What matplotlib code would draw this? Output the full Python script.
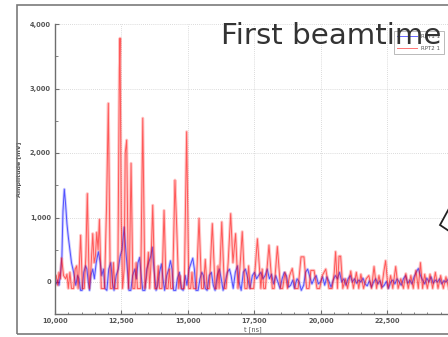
import matplotlib
matplotlib.use("Agg")
import matplotlib.pyplot as plt
from matplotlib.patches import Rectangle, Polygon
from matplotlib.ticker import MultipleLocator, FuncFormatter

# ---- data ----
red_t = [10000, 10050, 10100, 10150, 10200, 10250, 10320, 10400, 10450, 10500, 10560, 10620,
         10700, 10760, 10815, 10870, 10920, 10965, 11030, 11100, 11160, 11215, 11290, 11350,
         11420, 11470, 11520, 11570, 11620, 11670, 11740, 11860, 11940, 12005, 12080, 12150,
         12200, 12250, 12360, 12420, 12445, 12490, 12540, 12600, 12640, 12695, 12760, 12800,
         12860, 12930, 13000, 13050, 13100, 13220, 13300, 13380, 13450, 13510, 13560, 13610,
         13675, 13750, 13830, 13880, 13930, 14020, 14100, 14180, 14250, 14300, 14350, 14420,
         14510, 14580, 14650, 14700, 14760, 14860, 14950, 15030, 15100, 15150, 15200, 15310,
         15415, 15510, 15580, 15650, 15720, 15800, 15915, 16020, 16080, 16130, 16170, 16270,
         16370, 16430, 16510, 16605, 16690, 16790, 16880, 16950, 17040, 17140, 17220, 17280,
         17340, 17470, 17610, 17740, 17790, 17850, 17910, 18045, 18170, 18240, 18360, 18480,
         18560, 18650, 18740, 18820, 18920, 19030, 19140, 19250, 19360, 19460, 19550, 19620,
         19740, 19850, 19950, 20050, 20180, 20300, 20420, 20500, 20550, 20620, 20680, 20740,
         20820, 20920, 21000, 21120, 21220, 21330, 21420, 21500, 21600, 21700, 21800, 21900,
         21995, 22090, 22180, 22280, 22360, 22430, 22520, 22620, 22700, 22810, 22900, 23000,
         23100, 23190, 23280, 23380, 23470, 23570, 23660, 23740, 23820, 23900, 24000, 24100,
         24200, 24300, 24400, 24500, 24600, 24700, 24800]
red_amp = [0, 100, -50, 150, 50, 370, 100, 50, 120, -100, 150, -100,
           -100, 200, 250, -100, 300, 725, -100, -100, 400, 1370, -100, 200,
           750, 300, 400, 770, 500, 970, -100, -100, 1200, 2770, -100, -100,
           300, -100, -100, 3300, 3780, 1000, -100, 200, 2000, 2200, -100, 200,
           1840, -100, -100, 300, -100, -100, 2540, -100, 100, 460, -100, 300,
           1190, -100, -100, 250, -100, -100, 1110, -100, -100, 200, -100, -100,
           1580, 800, -100, 100, -100, -100, 2330, -100, -100, 150, -100, -100,
           985, -100, -100, 350, -100, -100, 905, -100, -100, 250, -100, 930,
           -100, -100, 300, 1060, 300, 750, -100, 200, 780, -100, -100, 250,
           -100, -100, 670, -100, 200, -100, -100, 570, -100, -100, 550, -100,
           -100, 150, -100, 100, 210, -100, -100, 390, 390, -100, -100, 180,
           180, -100, -100, 100, 200, -100, -100, 150, 470, -100, 400, 400,
           -100, 50, -100, 170, -100, 150, -100, 120, -100, 50, 100, -100,
           240, -100, 100, -100, 150, 330, -100, 100, -100, 240, -100, 50,
           -100, 130, -100, 100, -100, 180, -100, 300, -100, 120, -100, 120,
           -100, 150, -100, 100, -100, 80, -100]

blue_t = [10000, 10050, 10100, 10150, 10200, 10260, 10300, 10350, 10400, 10450, 10500, 10560,
          10620, 10700, 10780, 10850, 10900, 10960, 11020, 11080, 11150, 11200, 11250, 11300,
          11350, 11420, 11480, 11550, 11630, 11700, 11760, 11820, 11880, 11950, 12020, 12100,
          12160, 12220, 12300, 12380, 12450, 12520, 12600, 12660, 12720, 12780, 12850, 12920,
          13000, 13060, 13120, 13180, 13240, 13300, 13380, 13450, 13520, 13600, 13660, 13720,
          13800, 13860, 13930, 14000, 14060, 14120, 14200, 14280, 14340, 14400, 14460, 14540,
          14600, 14680, 14740, 14820, 14900, 14960, 15040, 15120, 15180, 15240, 15300, 15380,
          15450, 15520, 15580, 15650, 15720, 15800, 15880, 15950, 16020, 16100, 16180, 16250,
          16320, 16400, 16480, 16560, 16620, 16700, 16780, 16860, 16920, 17000, 17080, 17160,
          17250, 17330, 17420, 17500, 17580, 17650, 17740, 17820, 17900, 17980, 18060, 18140,
          18220, 18300, 18380, 18460, 18540, 18620, 18700, 18780, 18860, 18940, 19000, 19100,
          19180, 19260, 19350, 19420, 19500, 19580, 19660, 19740, 19820, 19900, 19980, 20060,
          20140, 20220, 20300, 20380, 20460, 20540, 20620, 20700, 20780, 20860, 20940, 21020,
          21100, 21180, 21260, 21340, 21420, 21500, 21580, 21660, 21740, 21820, 21900, 21980,
          22060, 22140, 22220, 22300, 22380, 22460, 22540, 22620, 22700, 22780, 22860, 22940,
          23020, 23100, 23180, 23260, 23340, 23420, 23500, 23580, 23660, 23740, 23820, 23900,
          23980, 24060, 24140, 24220, 24300, 24380, 24460, 24540, 24620, 24700, 24800]
blue_amp = [0, -30, 30, -50, 100, 400, 1100, 1440, 1200, 900, 700, 500,
            300, 150, -50, 100, 50, -130, -130, 150, 250, 200, 0, -130,
            100, 200, 50, 300, 470, 300, 100, 200, -100, -130, 200, 300,
            0, -130, 100, 200, 400, 500, 850, 500, 200, -130, -130, 100,
            200, 50, 300, 380, 100, -130, -130, 200, 300, 400, 540, 200,
            -130, -50, 150, 280, 50, -130, 100, 200, 330, 200, -130, -130,
            50, 150, -100, -130, 100, -50, 200, 300, 370, 200, -130, -130,
            50, 150, 100, -100, -130, 100, 150, -50, -130, 100, 200, 50,
            -130, 0, 150, 200, 100, -100, 150, 250, 0, -130, 150, 200,
            50, -100, 100, 150, 50, 100, 150, 50, 100, 200, 50, 120,
            -30, 100, 0, -100, 50, 150, 100, -80, -50, 30, -100, 50,
            0, -130, -50, 150, 200, 80, -30, 50, 100, -30, 0, 80,
            -50, 80, 10, -80, 30, 100, 50, 150, 0, 50, -50, 50,
            100, 0, 50, -20, 30, 0, 60, -30, -60, 20, -80, 0,
            50, -30, 20, -80, -50, 10, -100, 0, 30, -30, 50, 0,
            -50, 50, 100, -20, 30, -30, 80, 150, 210, 100, 30, -30,
            60, 0, 80, -20, 30, 0, 50, -30, 20, 0, 50]

series_labels = ["RPT1 1", "RPT2 1"]
title_text = "First beamtime"
x_label = "t [ns]"
y_label = "Amplitude [mV]"

# ---- figure ----
W, H = 448, 337
fig = plt.figure(figsize=(W / 100, H / 100), dpi=100)

def fx(px):
    return px / W

def fy(py):
    return 1 - py / H

# outer slide frame
fig.patches.append(Rectangle((fx(16.5), fy(334)), 1.2, fy(4.5) - fy(334),
                             transform=fig.transFigure, fill=False,
                             edgecolor="#7a7a7a", linewidth=1.2, zorder=0))

ax = fig.add_axes([fx(55), fy(314.25), 396.3 / W, 290.25 / H])
# soft wide band + sharper core, to mimic densely sampled traces
ax.plot(blue_t, blue_amp, color="#3030ff", alpha=0.25, lw=2.0)
ax.plot(blue_t, blue_amp, color="#0000ff", alpha=0.6, lw=0.7, label=series_labels[0])
ax.plot(red_t, red_amp, color="#ff3030", alpha=0.28, lw=2.2)
ax.plot(red_t, red_amp, color="#ff0000", alpha=0.55, lw=0.7, label=series_labels[1])

ax.set_xlim(10000, 24900)
ax.set_ylim(-500, 4000)
for s in ["top", "right"]:
    ax.spines[s].set_visible(False)
for s in ["left", "bottom"]:
    ax.spines[s].set_color("#6e6e6e")
    ax.spines[s].set_linewidth(1.0)

ax.xaxis.set_major_locator(MultipleLocator(2500))
ax.xaxis.set_minor_locator(MultipleLocator(500))
ax.yaxis.set_major_locator(MultipleLocator(1000))
ax.yaxis.set_minor_locator(MultipleLocator(500))
fmt = FuncFormatter(lambda v, p: f"{int(v):,}")
ax.xaxis.set_major_formatter(fmt)
ax.yaxis.set_major_formatter(fmt)
ax.tick_params(which="both", direction="in", color="#6e6e6e", labelsize=4.8,
               labelcolor="#555555", pad=3)
ax.tick_params(which="major", length=3, width=0.8)
ax.tick_params(which="minor", length=1.8, width=0.6)
for lab in ax.get_xticklabels() + ax.get_yticklabels():
    lab.set_fontweight("bold")
ax.grid(True, which="major", color="#cfcfcf", linestyle=(0, (1, 1.5)), linewidth=0.6)

ax.set_xlabel(x_label, fontsize=4.8, color="#555555", labelpad=1)
ax.set_ylabel(y_label, fontsize=4.5, color="#555555", labelpad=6, fontweight="bold")

leg = ax.legend(loc="upper left", bbox_to_anchor=(fx(394), fy(31)),
                bbox_transform=fig.transFigure, fontsize=4, frameon=True,
                fancybox=False, edgecolor="#9a9a9a", handlelength=3.6,
                labelspacing=1.2, borderpad=0.6, handletextpad=0.7,
                borderaxespad=0)
leg.get_frame().set_linewidth(0.6)
for t in leg.get_texts():
    t.set_color("#555555")

fig.text(fx(221), fy(44), title_text, fontsize=21.2, color="#333333",
         ha="left", va="baseline", zorder=5)

# callout arrow outline on the right edge
fig.patches.append(Polygon([(fx(452), fy(203)), (fx(440), fy(225)), (fx(452), fy(233))],
                           closed=False, transform=fig.transFigure, facecolor="white",
                           edgecolor="#222222", linewidth=1.3, zorder=6))

fig.savefig("out.png", dpi=100)
